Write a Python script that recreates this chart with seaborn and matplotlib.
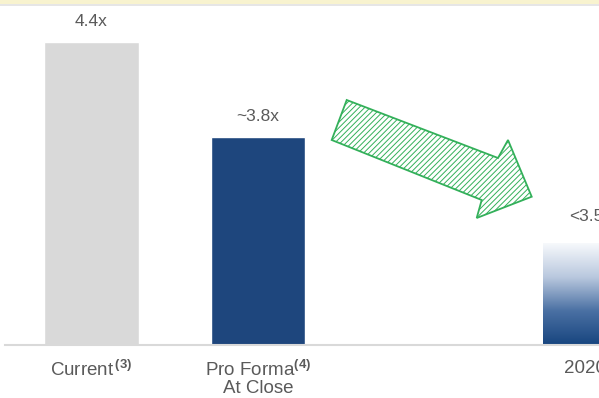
import matplotlib
matplotlib.use("Agg")
import matplotlib.pyplot as plt
import seaborn as sns
import numpy as np
import pandas as pd
from matplotlib.patches import Polygon, Rectangle

# ---- data ----
categories = ["Current", "Pro Forma", "2020E"]
values = [4.4, 3.8, 3.13]
value_labels = ["4.4x", "~3.8x", "<3.5x"]
order = ["Current", "Pro Forma", " ", "2020E"]
tick_labels = [r"Current$^{\,\mathbf{(3)}}$", "Pro Forma$^{\\mathbf{(4)}}$\nAt Close", "", "2020E"]
bar_colors = ["#d9d9d9", "#1e467d", "#1e467d"]

sns.set_theme(style="white")
plt.rcParams["font.family"] = ["Liberation Sans", "DejaVu Sans"]
plt.rcParams["mathtext.fontset"] = "custom"
plt.rcParams["mathtext.rm"] = "Liberation Sans"
plt.rcParams["mathtext.bf"] = "Liberation Sans:bold"
plt.rcParams["hatch.linewidth"] = 0.7

W, H = 599, 398
fig = plt.figure(figsize=(W / 100, H / 100), dpi=100)
ax = fig.add_axes([5 / W, 53 / H, 669 / W, 345 / H])

df = pd.DataFrame({"cat": categories, "val": values})
sns.barplot(data=df, x="cat", y="val", order=order, hue="cat",
            palette=dict(zip(categories, bar_colors)), width=0.57,
            legend=False, ax=ax, saturation=1)

ymin, ymax = 2.486, 4.665
ax.set_xlim(-0.52, 3.5)
ax.set_ylim(ymin, ymax)

txt_color = "#5a5a5a"
cat_pos = {c: order.index(c) for c in categories}
for bar in list(ax.patches):
    cx = bar.get_x() + bar.get_width() / 2
    for c, v, lab in zip(categories, values, value_labels):
        if abs(cx - cat_pos[c]) < 0.3:
            off = 14 if c == "2020E" else 9
            ax.annotate(lab, (cx, v), xytext=(0, off), textcoords="offset points",
                        ha="center", va="bottom", fontsize=12.5, color=txt_color)
            if c == "2020E":
                x0, w = bar.get_x(), bar.get_width()
                bar.set_facecolor("none")
                bar.set_edgecolor("none")
                grad = np.linspace(0, 1, 256).reshape(-1, 1)
                cmap = matplotlib.colors.LinearSegmentedColormap.from_list(
                    "g", ["#17457f", "#4a70a3", "#b9c8de", "#f7f9fc"])
                ax.imshow(grad, extent=(x0, x0 + w, ymin, v), origin="lower",
                          aspect="auto", cmap=cmap, zorder=2)

ax.set_xlim(-0.52, 3.5)
ax.set_ylim(ymin, ymax)
ax.set_xticks(range(len(order)))
ax.set_xticklabels(tick_labels, fontsize=13.5, color=txt_color, linespacing=1.0)
ax.tick_params(axis="x", length=0, pad=10.5)
ax.set_yticks([])
ax.set_xlabel("")
ax.set_ylabel("")
for s in ["left", "right", "top"]:
    ax.spines[s].set_visible(False)
ax.spines["bottom"].set_color("#d9d9d9")
ax.spines["bottom"].set_linewidth(1.5)

# top banner strip
fig.patches.append(Rectangle((0, 1 - 4 / H), 1, 4 / H, transform=fig.transFigure,
                             facecolor="#f8f3cf", edgecolor="none", zorder=0))
fig.patches.append(Rectangle((0, 1 - 6 / H), 1, 2 / H, transform=fig.transFigure,
                             facecolor="#e6e6e6", edgecolor="none", zorder=0))

# hatched arrow
pts = [(346.7, 100), (498, 158), (508, 140), (531.7, 196.7), (476.7, 218),
       (481.7, 200), (331.7, 140)]
verts = [(x / W, 1 - y / H) for x, y in pts]
fig.patches.append(Polygon(verts, closed=True, transform=fig.transFigure,
                           facecolor="white", edgecolor="#33b05a", hatch="//////",
                           linewidth=1.3, zorder=3))

fig.savefig("out.png", dpi=100)
